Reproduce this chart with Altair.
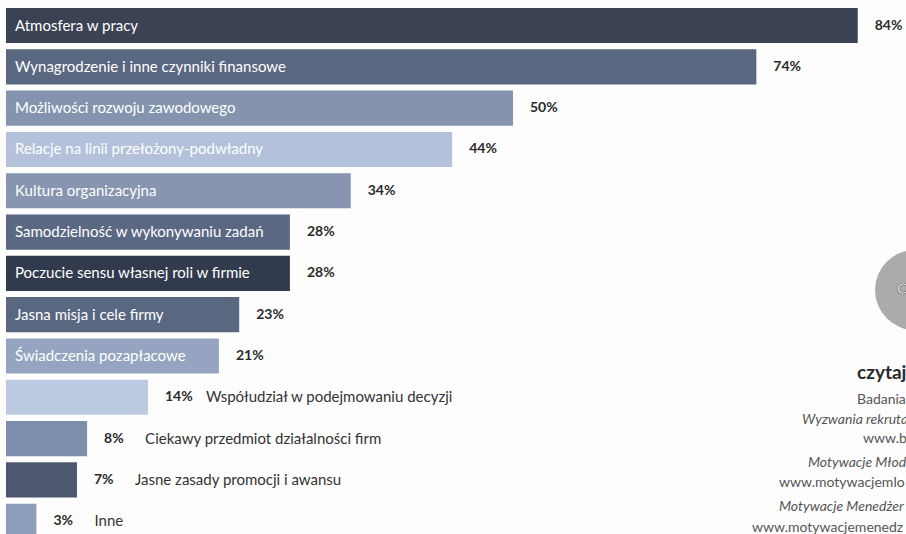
import altair as alt
import pandas as pd

categories = [
    "Atmosfera w pracy",
    "Wynagrodzenie i inne czynniki finansowe",
    "Możliwości rozwoju zawodowego",
    "Relacje na linii przełożony-podwładny",
    "Kultura organizacyjna",
    "Samodzielność w wykonywaniu zadań",
    "Poczucie sensu własnej roli w firmie",
    "Jasna misja i cele firmy",
    "Świadczenia pozapłacowe",
    "Współudział w podejmowaniu decyzji",
    "Ciekawy przedmiot działalności firm",
    "Jasne zasady promocji i awansu",
    "Inne",
]
values = [84, 74, 50, 44, 34, 28, 28, 23, 21, 14, 8, 7, 3]
bar_colors = [
    "#3b4254", "#5a6780", "#8494ae", "#b3c2da", "#8795b0", "#5b6884", "#323a4d",
    "#5a6781", "#95a5c1", "#bccbe2", "#7d8dac", "#4d5870", "#8c9cbb",
]

side_lines = [
    "czytaj", "Badania", "Wyzwania rekruta", "www.bi",
    "Motywacje Młody", "www.motywacjemlo",
    "Motywacje Menedżer", "www.motywacjemenedz",
]

df = pd.DataFrame({"category": categories, "value": values,
                   "label": [f"{v}%" for v in values]})
dummy = pd.DataFrame({"d": [0]})

FONT = "Lato"
x_scale = alt.Scale(domain=[0, 88.76], nice=False, zero=True)
# one row = one unit; ~41.3 px per row on a 526 px tall plot
y_scale = alt.Scale(domain=[0, 12.735], nice=False, zero=False, reverse=True)

base = alt.Chart(df).transform_window(
    rn="row_number()"
).transform_calculate(
    i="datum.rn - 1", i2="datum.rn - 0.15", im="datum.rn - 0.575", zero="0"
)

bars = base.mark_bar(clip=True).encode(
    x=alt.X("value:Q", scale=x_scale, axis=None),
    x2="zero:Q",
    y=alt.Y("i:Q", scale=y_scale, axis=None),
    y2="i2:Q",
    color=alt.Color("category:N", scale=alt.Scale(domain=categories, range=bar_colors), legend=None),
)

pct = base.mark_text(align="left", baseline="middle", dx=17, font=FONT, fontSize=14,
                     fontWeight="bold", color="#2b2b2b").encode(
    x=alt.X("value:Q", scale=x_scale, axis=None),
    y=alt.Y("im:Q", scale=y_scale, axis=None),
    text="label:N",
)

inside = base.transform_filter("datum.value >= 20").mark_text(
    align="left", baseline="middle", font=FONT, fontSize=15, color="#ffffff").encode(
    x=alt.value(9),
    y=alt.Y("im:Q", scale=y_scale, axis=None),
    text="category:N",
)

outside = base.transform_filter("datum.value < 20").mark_text(
    align="left", baseline="middle", dx=58, font=FONT, fontSize=15, color="#333333").encode(
    x=alt.X("value:Q", scale=x_scale, axis=None),
    y=alt.Y("im:Q", scale=y_scale, axis=None),
    text="category:N",
)

circle = alt.Chart(dummy).mark_point(shape="circle", filled=True, size=6400,
                                     color="#ababab", opacity=1).encode(
    x=alt.value(909), y=alt.value(282))
circle_c = alt.Chart(dummy).mark_text(text="C", font=FONT, fontSize=15, fontWeight="bold",
                                      color="#ffffff", stroke="#555555", strokeWidth=0.6,
                                      align="left", baseline="middle").encode(
    x=alt.value(891), y=alt.value(281))

side_specs = [
    # (text index, x, y, size, weight, style)  -- plot-area pixels
    (0, 851, 365, 19, "bold", "normal"),
    (1, 851, 392, 14, "normal", "normal"),
    (2, 796, 412, 14, "normal", "italic"),
    (3, 857, 431, 14, "normal", "normal"),
    (4, 802, 455, 14, "normal", "italic"),
    (5, 773, 475, 14, "normal", "normal"),
    (6, 773, 499, 14, "normal", "italic"),
    (7, 746, 520, 14, "normal", "normal"),
]
side_layers = []
for i, sx, sy, fs, fw, st in side_specs:
    side_layers.append(
        alt.Chart(dummy).mark_text(text=side_lines[i], font=FONT, fontSize=fs, fontWeight=fw,
                                   fontStyle=st, color="#2a2a2a" if fw == "bold" else "#555555",
                                   align="left", baseline="middle").encode(
            x=alt.value(sx), y=alt.value(sy))
    )

chart = alt.layer(bars, pct, inside, outside, circle, circle_c, *side_layers).properties(
    width=900, height=526,
    padding={"left": 6, "top": 8, "right": 0, "bottom": 0},
    autosize=alt.AutoSizeParams(type="none"),
    background="#fdfdfd",
).configure_view(stroke=None)

chart.save("out.html", embed_options={"renderer": "svg", "actions": False})
